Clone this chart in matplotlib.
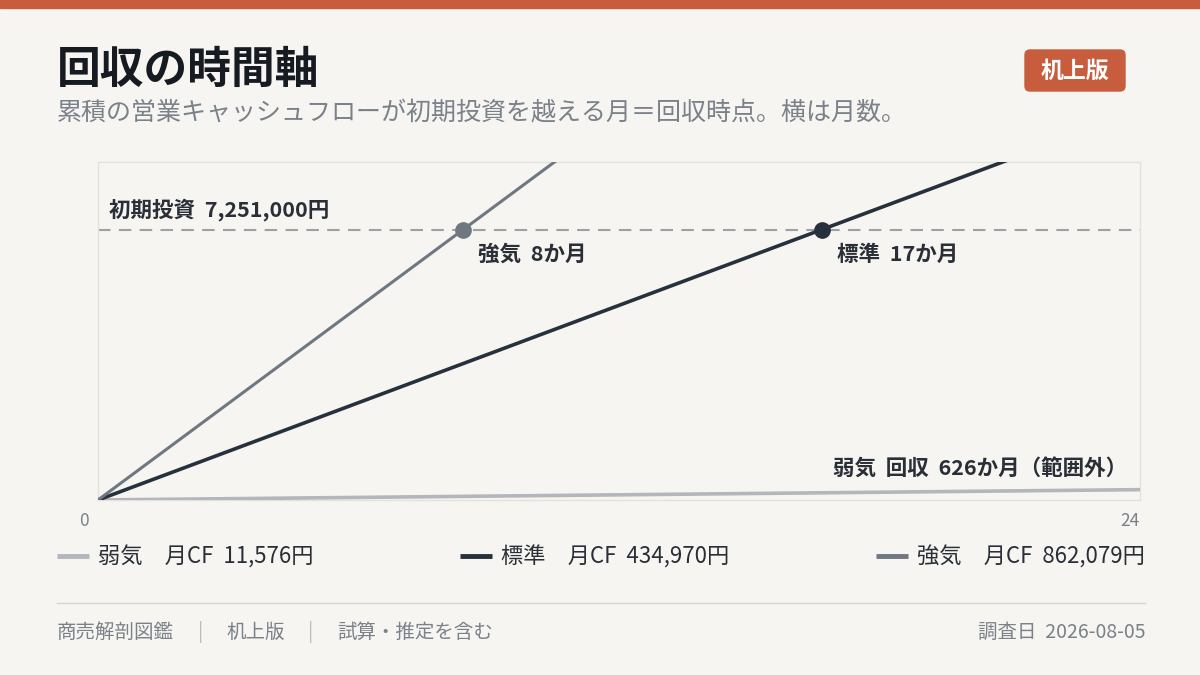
import numpy as np
import matplotlib
matplotlib.use("Agg")
import matplotlib.pyplot as plt
import matplotlib.patches as mpatches
import matplotlib.lines as mlines
from matplotlib.transforms import ScaledTranslation

plt.rcParams['font.family'] = ['Noto Sans CJK JP', 'DejaVu Sans']

# data
scenarios = ['弱気', '標準', '強気']
monthly_cf = [11576, 434970, 862079]
investment = 7251000
horizon = [0, 24]
x_ticks = [0, 24]

colors = ['#b3b6ba', '#27303d', '#6f7781']
line_widths = [2.6, 2.6, 2.2]

BG = '#f6f5f1'
ACCENT = '#c85d3d'
INK = '#161b22'
MUTED = '#7b8189'
LABEL = '#2a2f37'

fig = plt.figure(figsize=(12, 6.75), dpi=100, facecolor=BG)
ax = fig.add_axes([98 / 1200, 1 - 500 / 675, (1140 - 98) / 1200, (500 - 162) / 675])
ax.set_facecolor(BG)

months = np.array(horizon)
for name, cf, c, lw in zip(scenarios, monthly_cf, colors, line_widths):
    ax.plot(months, cf * months, color=c, lw=lw, solid_capstyle='butt',
            label=f'{name}　月CF  {cf:,}円', zorder=3)

ax.axhline(investment, color='#9ca1a8', lw=1.5, dashes=(6, 4), zorder=2)
ax.set_xlim(horizon[0], horizon[1])
ax.set_ylim(0, investment * 1.25)

ax.text(0.25, investment + investment * 0.032, f'初期投資  {investment:,}円',
        fontsize=15.5, fontweight='bold', color=LABEL, va='bottom', ha='left')

# payback markers
for name, cf, c in zip(scenarios, monthly_cf, colors):
    pb = investment / cf
    if pb <= horizon[1]:
        ax.plot(pb, investment, 'o', ms=11, color=c, zorder=4, clip_on=False)
        ax.annotate(f'{name}  {round(pb)}か月', (pb, investment),
                    xytext=(11, -18), textcoords='offset points',
                    fontsize=15.5, fontweight='bold', color=LABEL,
                    ha='left', va='center')
    else:
        ax.text(horizon[1] - 0.3, investment * 0.115,
                f'{name}  回収  {round(pb)}か月（範囲外）',
                fontsize=15.5, fontweight='bold', color=LABEL,
                ha='right', va='center')

for s in ax.spines.values():
    s.set_color('#e3e1dc')
    s.set_linewidth(1)
ax.set_yticks([])
ax.set_xticks(x_ticks)
ax.set_xticklabels([str(t) for t in x_ticks])
ax.tick_params(axis='x', length=0, pad=9, labelsize=12.5, labelcolor=MUTED)
labs = ax.get_xticklabels()
labs[0].set_ha('right')
labs[0].set_transform(labs[0].get_transform() + ScaledTranslation(-0.09, 0, fig.dpi_scale_trans))
labs[1].set_ha('right')

# legend
handles, labels = ax.get_legend_handles_labels()
leg = fig.legend(handles, labels, ncol=3, mode='expand',
                 loc='center left',
                 bbox_to_anchor=(57 / 1200, 1 - 557 / 675, (1145 - 57) / 1200, 0.0),
                 frameon=False, fontsize=16, handlelength=1.45, handletextpad=0.4,
                 borderaxespad=0, borderpad=0, labelcolor=LABEL)
for h in leg.legend_handles:
    h.set_linewidth(3.5)

# header
fig.patches.append(mpatches.Rectangle((0, 1 - 8 / 675), 1, 8 / 675, transform=fig.transFigure,
                                      color=ACCENT, zorder=0))
fig.text(57 / 1200, 1 - 70 / 675, '回収の時間軸', fontsize=31.5, fontweight='bold',
         color=INK, va='center', ha='left')
fig.text(57 / 1200, 1 - 113 / 675,
         '累積の営業キャッシュフローが初期投資を越える月＝回収時点。横は月数。',
         fontsize=18, color=MUTED, va='center', ha='left')
badge = mpatches.FancyBboxPatch((10.25, (675 - 91) / 100), 1.0, 0.41,
                                boxstyle='round,pad=0,rounding_size=0.05',
                                transform=fig.dpi_scale_trans, color=ACCENT)
fig.patches.append(badge)
fig.text(1075 / 1200, 1 - 71 / 675, '机上版', fontsize=16.5, fontweight='bold',
         color='white', ha='center', va='center')

# footer
fig.add_artist(mlines.Line2D([57 / 1200, 1145 / 1200], [1 - 603 / 675] * 2,
                             transform=fig.transFigure, color='#d6d4cf', lw=1))
fy = 1 - 632 / 675
fig.text(57 / 1200, fy, '商売解剖図鑑', fontsize=14, color=MUTED, va='center')
fig.text(201 / 1200, fy, '|', fontsize=14, color='#b9bcc0', va='center', ha='center')
fig.text(226 / 1200, fy, '机上版', fontsize=14, color=MUTED, va='center')
fig.text(311 / 1200, fy, '|', fontsize=14, color='#b9bcc0', va='center', ha='center')
fig.text(337 / 1200, fy, '試算・推定を含む', fontsize=14, color=MUTED, va='center')
fig.text(1145 / 1200, fy, '調査日  2026-08-05', fontsize=14, color=MUTED, va='center', ha='right')

fig.savefig('out.png', dpi=100, facecolor=BG)
